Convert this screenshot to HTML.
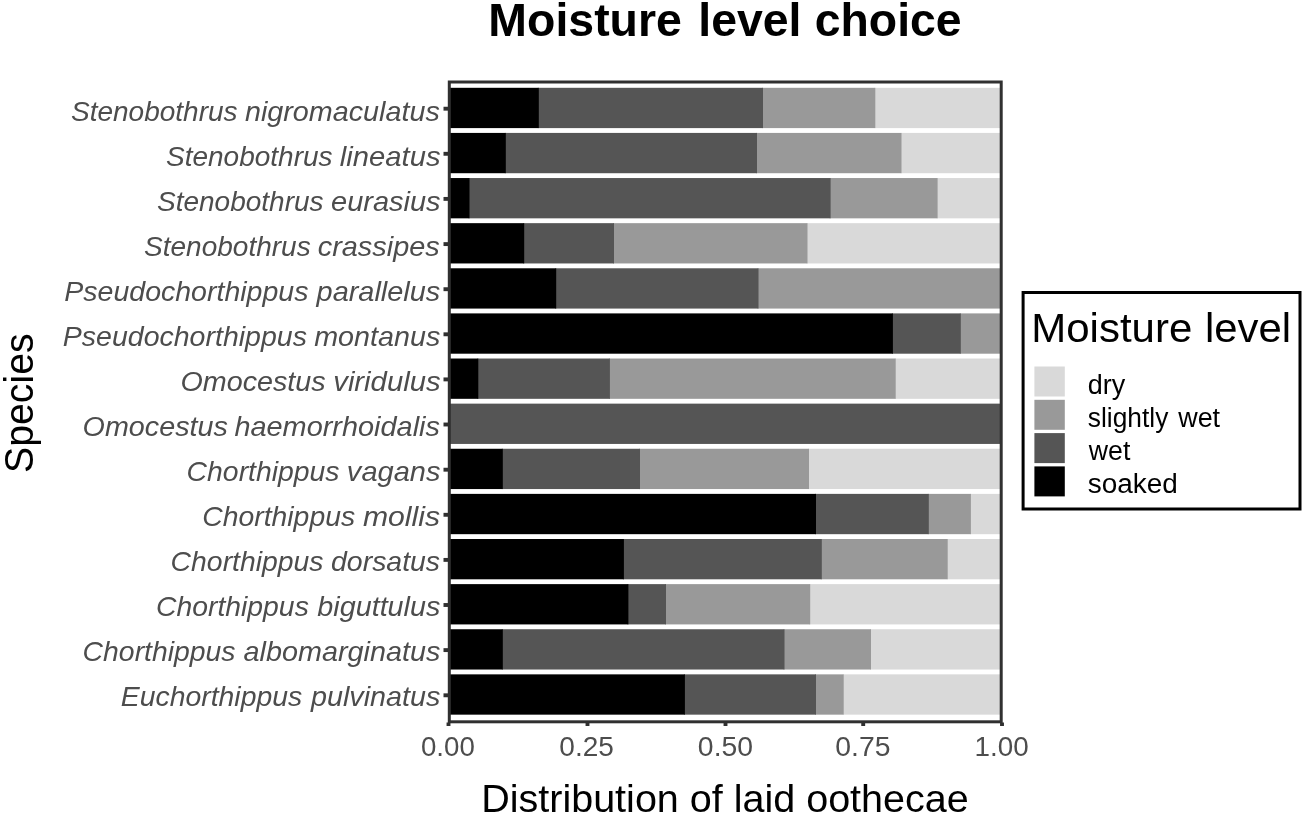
<!DOCTYPE html>
<html lang="en"><head><meta charset="utf-8"><title>Moisture level choice</title>
<style>html,body{margin:0;padding:0;background:#fff;}svg{display:block;}text{font-family:"Liberation Sans",Arial,Helvetica,sans-serif;}</style></head><body>
<svg width="1304" height="816" viewBox="0 0 1304 816">
<rect x="0" y="0" width="1304" height="816" fill="#ffffff"/>
<g>
<rect x="874.3" y="87.80" width="127.2" height="40.30" fill="#d9d9d9"/>
<rect x="762.0" y="87.80" width="113.3" height="40.30" fill="#999999"/>
<rect x="537.8" y="87.80" width="225.2" height="40.30" fill="#555555"/>
<rect x="449.0" y="87.80" width="89.8" height="40.30" fill="#000000"/>
<rect x="900.5" y="132.92" width="101.0" height="40.30" fill="#d9d9d9"/>
<rect x="756.0" y="132.92" width="145.5" height="40.30" fill="#999999"/>
<rect x="504.8" y="132.92" width="252.2" height="40.30" fill="#555555"/>
<rect x="449.0" y="132.92" width="56.8" height="40.30" fill="#000000"/>
<rect x="936.6" y="178.04" width="64.9" height="40.30" fill="#d9d9d9"/>
<rect x="829.6" y="178.04" width="108.0" height="40.30" fill="#999999"/>
<rect x="468.5" y="178.04" width="362.1" height="40.30" fill="#555555"/>
<rect x="449.0" y="178.04" width="20.5" height="40.30" fill="#000000"/>
<rect x="806.5" y="223.16" width="195.0" height="40.30" fill="#d9d9d9"/>
<rect x="613.0" y="223.16" width="194.5" height="40.30" fill="#999999"/>
<rect x="523.2" y="223.16" width="90.8" height="40.30" fill="#555555"/>
<rect x="449.0" y="223.16" width="75.2" height="40.30" fill="#000000"/>
<rect x="757.5" y="268.28" width="244.0" height="40.30" fill="#999999"/>
<rect x="555.2" y="268.28" width="203.3" height="40.30" fill="#555555"/>
<rect x="449.0" y="268.28" width="107.2" height="40.30" fill="#000000"/>
<rect x="959.8" y="313.40" width="41.7" height="40.30" fill="#999999"/>
<rect x="891.9" y="313.40" width="68.9" height="40.30" fill="#555555"/>
<rect x="449.0" y="313.40" width="443.9" height="40.30" fill="#000000"/>
<rect x="894.7" y="358.52" width="106.8" height="40.30" fill="#d9d9d9"/>
<rect x="608.9" y="358.52" width="286.8" height="40.30" fill="#999999"/>
<rect x="477.3" y="358.52" width="132.6" height="40.30" fill="#555555"/>
<rect x="449.0" y="358.52" width="29.3" height="40.30" fill="#000000"/>
<rect x="449.0" y="403.64" width="552.5" height="40.30" fill="#555555"/>
<rect x="808.0" y="448.76" width="193.5" height="40.30" fill="#d9d9d9"/>
<rect x="639.0" y="448.76" width="170.0" height="40.30" fill="#999999"/>
<rect x="501.8" y="448.76" width="138.2" height="40.30" fill="#555555"/>
<rect x="449.0" y="448.76" width="53.8" height="40.30" fill="#000000"/>
<rect x="969.9" y="493.88" width="31.6" height="40.30" fill="#d9d9d9"/>
<rect x="927.8" y="493.88" width="43.1" height="40.30" fill="#999999"/>
<rect x="815.0" y="493.88" width="113.8" height="40.30" fill="#555555"/>
<rect x="449.0" y="493.88" width="367.0" height="40.30" fill="#000000"/>
<rect x="946.7" y="539.00" width="54.8" height="40.30" fill="#d9d9d9"/>
<rect x="820.8" y="539.00" width="126.9" height="40.30" fill="#999999"/>
<rect x="622.9" y="539.00" width="198.9" height="40.30" fill="#555555"/>
<rect x="449.0" y="539.00" width="174.9" height="40.30" fill="#000000"/>
<rect x="809.2" y="584.12" width="192.3" height="40.30" fill="#d9d9d9"/>
<rect x="665.0" y="584.12" width="145.2" height="40.30" fill="#999999"/>
<rect x="627.4" y="584.12" width="38.6" height="40.30" fill="#555555"/>
<rect x="449.0" y="584.12" width="179.4" height="40.30" fill="#000000"/>
<rect x="870.0" y="629.24" width="131.5" height="40.30" fill="#d9d9d9"/>
<rect x="783.5" y="629.24" width="87.5" height="40.30" fill="#999999"/>
<rect x="501.8" y="629.24" width="282.7" height="40.30" fill="#555555"/>
<rect x="449.0" y="629.24" width="53.8" height="40.30" fill="#000000"/>
<rect x="842.7" y="674.36" width="158.8" height="40.30" fill="#d9d9d9"/>
<rect x="815.0" y="674.36" width="28.7" height="40.30" fill="#999999"/>
<rect x="683.9" y="674.36" width="132.1" height="40.30" fill="#555555"/>
<rect x="449.0" y="674.36" width="235.9" height="40.30" fill="#000000"/>
</g>
<rect x="449.3" y="82" width="551.9" height="639.8" fill="none" stroke="#303030" stroke-width="3"/>
<g stroke="#303030" stroke-width="3.9">
<line x1="443.5" x2="448.5" y1="108.7" y2="108.7"/>
<line x1="443.5" x2="448.5" y1="153.8" y2="153.8"/>
<line x1="443.5" x2="448.5" y1="198.9" y2="198.9"/>
<line x1="443.5" x2="448.5" y1="244.1" y2="244.1"/>
<line x1="443.5" x2="448.5" y1="289.2" y2="289.2"/>
<line x1="443.5" x2="448.5" y1="334.3" y2="334.3"/>
<line x1="443.5" x2="448.5" y1="379.4" y2="379.4"/>
<line x1="443.5" x2="448.5" y1="424.5" y2="424.5"/>
<line x1="443.5" x2="448.5" y1="469.7" y2="469.7"/>
<line x1="443.5" x2="448.5" y1="514.8" y2="514.8"/>
<line x1="443.5" x2="448.5" y1="559.9" y2="559.9"/>
<line x1="443.5" x2="448.5" y1="605.0" y2="605.0"/>
<line x1="443.5" x2="448.5" y1="650.1" y2="650.1"/>
<line x1="443.5" x2="448.5" y1="695.3" y2="695.3"/>
<line x1="448.5" x2="448.5" y1="722.5" y2="726.0"/>
<line x1="587.5" x2="587.5" y1="722.5" y2="726.0"/>
<line x1="725.5" x2="725.5" y1="722.5" y2="726.0"/>
<line x1="863.2" x2="863.2" y1="722.5" y2="726.0"/>
<line x1="1002.0" x2="1002.0" y1="722.5" y2="726.0"/>
</g>
<rect x="1023.1" y="292.5" width="276.9" height="216.5" fill="#fff" stroke="#000" stroke-width="3"/>
<rect x="1034.4" y="366.5" width="30.4" height="30" fill="#d9d9d9"/>
<rect x="1034.4" y="399.8" width="30.4" height="30" fill="#999999"/>
<rect x="1034.4" y="433.1" width="30.4" height="30" fill="#555555"/>
<rect x="1034.4" y="466.4" width="30.4" height="30" fill="#000000"/>
<text x="420.99" y="755.7" font-size="27.4" fill="#4d4d4d" textLength="53.84" lengthAdjust="spacingAndGlyphs">0.00</text>
<text x="559.38" y="755.7" font-size="27.4" fill="#4d4d4d" textLength="54.57" lengthAdjust="spacingAndGlyphs">0.25</text>
<text x="697.86" y="755.7" font-size="27.4" fill="#4d4d4d" textLength="55.19" lengthAdjust="spacingAndGlyphs">0.50</text>
<text x="835.26" y="755.7" font-size="27.4" fill="#4d4d4d" textLength="55.19" lengthAdjust="spacingAndGlyphs">0.75</text>
<text x="974.57" y="755.7" font-size="27.4" fill="#4d4d4d" textLength="54.17" lengthAdjust="spacingAndGlyphs">1.00</text>
<text x="481.23" y="812.4" font-size="38.6" fill="#000" textLength="487.52" lengthAdjust="spacingAndGlyphs">Distribution of laid oothecae</text>
<text x="1087.79" y="393.5" font-size="26.8" fill="#000" textLength="37.44" lengthAdjust="spacingAndGlyphs">dry</text>
<text x="1088.80" y="460.1" font-size="26.8" fill="#000" textLength="41.50" lengthAdjust="spacingAndGlyphs">wet</text>
<text x="1087.76" y="493.4" font-size="26.8" fill="#000" textLength="90.02" lengthAdjust="spacingAndGlyphs">soaked</text>
<text y="121.1" font-size="27.4" font-style="italic" fill="#4d4d4d"><tspan x="70.98" textLength="166.60" lengthAdjust="spacingAndGlyphs">Stenobothrus</tspan> <tspan x="244.95" textLength="194.84" lengthAdjust="spacingAndGlyphs">nigromaculatus</tspan></text>
<text y="166.1" font-size="27.4" font-style="italic" fill="#4d4d4d"><tspan x="165.98" textLength="166.60" lengthAdjust="spacingAndGlyphs">Stenobothrus</tspan> <tspan x="339.83" textLength="100.68" lengthAdjust="spacingAndGlyphs">lineatus</tspan></text>
<text y="211.1" font-size="27.4" font-style="italic" fill="#4d4d4d"><tspan x="156.98" textLength="166.60" lengthAdjust="spacingAndGlyphs">Stenobothrus</tspan> <tspan x="331.04" textLength="109.58" lengthAdjust="spacingAndGlyphs">eurasius</tspan></text>
<text y="256.2" font-size="27.4" font-style="italic" fill="#4d4d4d"><tspan x="144.08" textLength="166.60" lengthAdjust="spacingAndGlyphs">Stenobothrus</tspan> <tspan x="317.75" textLength="122.00" lengthAdjust="spacingAndGlyphs">crassipes</tspan></text>
<text y="301.2" font-size="27.4" font-style="italic" fill="#4d4d4d"><tspan x="64.26" textLength="244.22" lengthAdjust="spacingAndGlyphs">Pseudochorthippus</tspan> <tspan x="316.56" textLength="123.76" lengthAdjust="spacingAndGlyphs">parallelus</tspan></text>
<text y="346.2" font-size="27.4" font-style="italic" fill="#4d4d4d"><tspan x="62.76" textLength="244.22" lengthAdjust="spacingAndGlyphs">Pseudochorthippus</tspan> <tspan x="314.15" textLength="126.21" lengthAdjust="spacingAndGlyphs">montanus</tspan></text>
<text y="391.2" font-size="27.4" font-style="italic" fill="#4d4d4d"><tspan x="180.40" textLength="145.30" lengthAdjust="spacingAndGlyphs">Omocestus</tspan> <tspan x="333.26" textLength="107.30" lengthAdjust="spacingAndGlyphs">viridulus</tspan></text>
<text y="436.2" font-size="27.4" font-style="italic" fill="#4d4d4d"><tspan x="82.60" textLength="145.30" lengthAdjust="spacingAndGlyphs">Omocestus</tspan> <tspan x="234.45" textLength="205.49" lengthAdjust="spacingAndGlyphs">haemorrhoidalis</tspan></text>
<text y="481.3" font-size="27.4" font-style="italic" fill="#4d4d4d"><tspan x="186.63" textLength="152.90" lengthAdjust="spacingAndGlyphs">Chorthippus</tspan> <tspan x="346.88" textLength="93.52" lengthAdjust="spacingAndGlyphs">vagans</tspan></text>
<text y="526.3" font-size="27.4" font-style="italic" fill="#4d4d4d"><tspan x="202.23" textLength="152.90" lengthAdjust="spacingAndGlyphs">Chorthippus</tspan> <tspan x="362.90" textLength="77.22" lengthAdjust="spacingAndGlyphs">mollis</tspan></text>
<text y="571.3" font-size="27.4" font-style="italic" fill="#4d4d4d"><tspan x="170.63" textLength="152.90" lengthAdjust="spacingAndGlyphs">Chorthippus</tspan> <tspan x="331.06" textLength="109.04" lengthAdjust="spacingAndGlyphs">dorsatus</tspan></text>
<text y="616.3" font-size="27.4" font-style="italic" fill="#4d4d4d"><tspan x="155.93" textLength="152.90" lengthAdjust="spacingAndGlyphs">Chorthippus</tspan> <tspan x="317.35" textLength="122.98" lengthAdjust="spacingAndGlyphs">biguttulus</tspan></text>
<text y="661.3" font-size="27.4" font-style="italic" fill="#4d4d4d"><tspan x="82.63" textLength="152.90" lengthAdjust="spacingAndGlyphs">Chorthippus</tspan> <tspan x="243.55" textLength="196.80" lengthAdjust="spacingAndGlyphs">albomarginatus</tspan></text>
<text y="706.4" font-size="27.4" font-style="italic" fill="#4d4d4d"><tspan x="120.76" textLength="181.50" lengthAdjust="spacingAndGlyphs">Euchorthippus</tspan> <tspan x="310.95" textLength="129.46" lengthAdjust="spacingAndGlyphs">pulvinatus</tspan></text>
<text y="35.9" font-size="46.2" font-weight="bold" fill="#000"><tspan x="488.38" textLength="193.49" lengthAdjust="spacingAndGlyphs">Moisture</tspan> <tspan x="698.28" textLength="103.26" lengthAdjust="spacingAndGlyphs">level</tspan> <tspan x="814.69" textLength="146.94" lengthAdjust="spacingAndGlyphs">choice</tspan></text>
<text y="342.0" font-size="40.9" fill="#000"><tspan x="1031.32" textLength="160.92" lengthAdjust="spacingAndGlyphs">Moisture</tspan> <tspan x="1204.93" textLength="86.05" lengthAdjust="spacingAndGlyphs">level</tspan></text>
<text y="426.8" font-size="26.8" fill="#000"><tspan x="1087.82" textLength="80.51" lengthAdjust="spacingAndGlyphs">slightly</tspan> <tspan x="1178.20" textLength="41.91" lengthAdjust="spacingAndGlyphs">wet</tspan></text>
<text transform="translate(33.0,472.96) rotate(-90)" x="0" y="0" font-size="40.0" fill="#000" textLength="139.55" lengthAdjust="spacingAndGlyphs">Species</text>
</svg></body></html>
